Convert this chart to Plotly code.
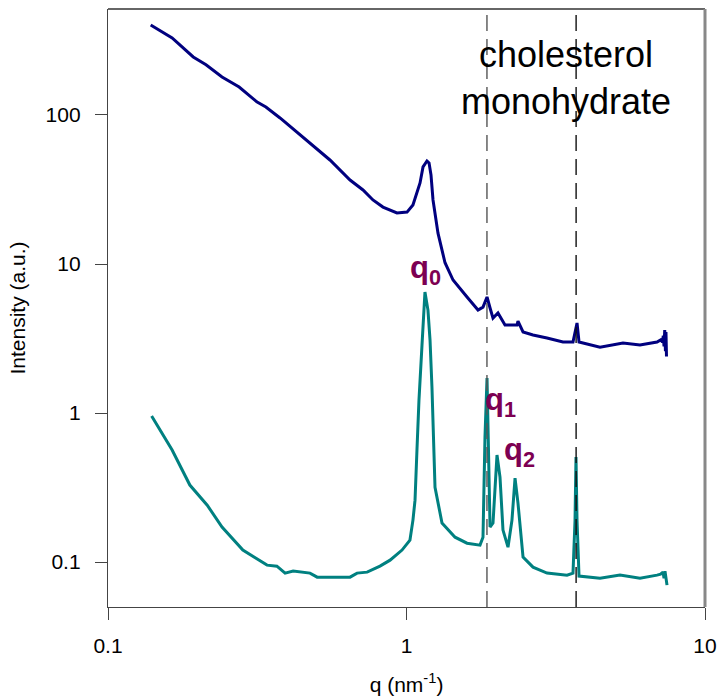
import plotly.graph_objects as go

# ---- data ----
q_upper = [0.139, 0.164, 0.193, 0.213, 0.241, 0.275, 0.316, 0.338, 0.377, 0.440,
           0.554, 0.647, 0.715, 0.772, 0.834, 0.929, 1.004, 1.051, 1.084, 1.110,
           1.136, 1.171, 1.190, 1.208, 1.227, 1.255, 1.275, 1.346, 1.432, 1.595,
           1.736, 1.804, 1.861, 1.905, 1.949, 2.025, 2.138, 2.346, 2.363, 2.457,
           2.653, 2.956, 3.344, 3.612, 3.697, 3.726, 3.784, 4.449, 5.313, 6.056,
           6.907, 7.10, 7.20, 7.25, 7.29, 7.33, 7.37, 7.40, 7.43]
I_upper = [402, 329, 245, 217, 180, 154, 122, 113, 95.5, 73.4,
           49.9, 36.6, 31.4, 26.9, 24.1, 22.0, 22.3, 24.9, 30.0, 35.0,
           44.8, 49.1, 47.6, 39.6, 26.9, 19.7, 16.1, 10.2, 7.81, 6.01,
           4.91, 5.14, 6.01, 5.07, 4.34, 4.69, 3.90, 3.90, 4.14, 3.50,
           3.34, 3.19, 3.00, 3.00, 3.90, 4.02, 3.00, 2.77, 2.95, 2.86,
           3.00, 3.10, 3.00, 3.30, 2.80, 3.60, 2.60, 3.50, 2.40]

q_lower = [0.140, 0.164, 0.188, 0.215, 0.241, 0.283, 0.341, 0.368, 0.392, 0.417,
           0.475, 0.502, 0.567, 0.647, 0.683, 0.738, 0.815, 0.881, 0.966, 1.027,
           1.051, 1.068, 1.084, 1.101, 1.127, 1.153, 1.180, 1.199, 1.217, 1.246,
           1.315, 1.454, 1.595, 1.763, 1.804, 1.832, 1.861, 1.875, 1.905, 1.949,
           2.010, 2.057, 2.105, 2.188, 2.256, 2.310, 2.363, 2.457, 2.653, 2.956,
           3.449, 3.612, 3.669, 3.697, 3.726, 3.784, 4.449, 5.191, 6.056, 6.907,
           7.10, 7.234, 7.29, 7.345, 7.40, 7.459]
I_lower = [0.955, 0.565, 0.329, 0.241, 0.172, 0.1205, 0.0955, 0.0940, 0.0844, 0.0871,
           0.0844, 0.0793, 0.0793, 0.0793, 0.0844, 0.0857, 0.0940, 0.1031, 0.1205, 0.1406,
           0.1914, 0.2606, 0.565, 1.222, 2.86, 6.49, 4.91, 3.09, 1.49, 0.318,
           0.183, 0.147, 0.134, 0.130, 0.147, 0.690, 1.72, 0.897, 0.172, 0.183,
           0.523, 0.372, 0.164, 0.126, 0.1914, 0.366, 0.249, 0.108, 0.0925, 0.0844,
           0.0818, 0.0844, 0.19, 0.507, 0.19, 0.0806, 0.0781, 0.0818, 0.0781, 0.0818,
           0.083, 0.0857, 0.078, 0.0870, 0.075, 0.0701]

cm_peaks = [1.86, 3.70]          # cholesterol monohydrate reflections
x_ticks = [0.1, 1, 10]
x_ticktext = ["0.1", "1", "10"]
y_ticks = [0.1, 1, 10, 100]
y_ticktext = ["0.1", "1", "10", "100"]

FONT = "Liberation Sans, Arial, sans-serif"
LABEL_COLOR = "#7d0052"

fig = go.Figure()
fig.add_trace(go.Scatter(x=q_upper, y=I_upper, mode="lines",
                         line=dict(color="#00007f", width=3), showlegend=False))
fig.add_trace(go.Scatter(x=q_lower, y=I_lower, mode="lines",
                         line=dict(color="#008080", width=3), showlegend=False))

shapes = []
for qv, col in zip(cm_peaks, ["#555555", "#111111"]):
    shapes.append(dict(type="line", xref="x", yref="paper", x0=qv, x1=qv, y0=0, y1=0.992,
                       line=dict(color=col, width=1.4, dash="16px,8px"), layer="above"))
# top and right frame lines
shapes.append(dict(type="line", xref="paper", yref="paper", x0=0, x1=1, y0=1, y1=1,
                   line=dict(color="#666666", width=2)))
shapes.append(dict(type="line", xref="paper", yref="paper", x0=1, x1=1, y0=0, y1=1,
                   line=dict(color="#888888", width=3)))

annotations = [
    dict(text="cholesterol<br>monohydrate", xref="paper", yref="paper", x=0.767, y=0.885,
         showarrow=False, font=dict(family=FONT, size=36, color="black"),
         xanchor="center", yanchor="middle"),
    dict(text="<b>q<sub>0</sub></b>", x=0.004, y=0.960, xref="x", yref="y",
         showarrow=False, font=dict(family=FONT, size=31, color=LABEL_COLOR),
         xanchor="left", yanchor="middle"),
    dict(text="<b>q<sub>1</sub></b>", x=0.2560, y=0.074, xref="x", yref="y",
         showarrow=False, font=dict(family=FONT, size=31, color=LABEL_COLOR),
         xanchor="left", yanchor="middle"),
    dict(text="<b>q<sub>2</sub></b>", x=0.3200, y=-0.262, xref="x", yref="y",
         showarrow=False, font=dict(family=FONT, size=31, color=LABEL_COLOR),
         xanchor="left", yanchor="middle"),
]

fig.update_layout(
    width=720, height=700,
    margin=dict(l=108, r=15, t=9, b=93),
    paper_bgcolor="white", plot_bgcolor="white",
    font=dict(family=FONT, size=21, color="black"),
    shapes=shapes, annotations=annotations,
    xaxis=dict(type="log", range=[-1, 1], tickvals=x_ticks, ticktext=x_ticktext,
               automargin=False,
               showgrid=False, zeroline=False, showline=True, linecolor="#444444",
               linewidth=1.3, ticks="outside", ticklen=12, tickcolor="#444444",
               tickwidth=1.3, ticklabelstandoff=8,
               title=dict(text="q (nm<sup>-1</sup>)", font=dict(size=21), standoff=20)),
    yaxis=dict(type="log", range=[-1.301, 2.711], tickvals=y_ticks, ticktext=y_ticktext,
               automargin=False,
               showgrid=False, zeroline=False, showline=True, linecolor="#444444",
               linewidth=1.3, ticks="outside", ticklen=12, tickcolor="#444444",
               tickwidth=1.3, ticklabelstandoff=10,
               title=dict(text="Intensity (a.u.)", font=dict(size=21), standoff=14)),
)

fig.write_html("out.html")
